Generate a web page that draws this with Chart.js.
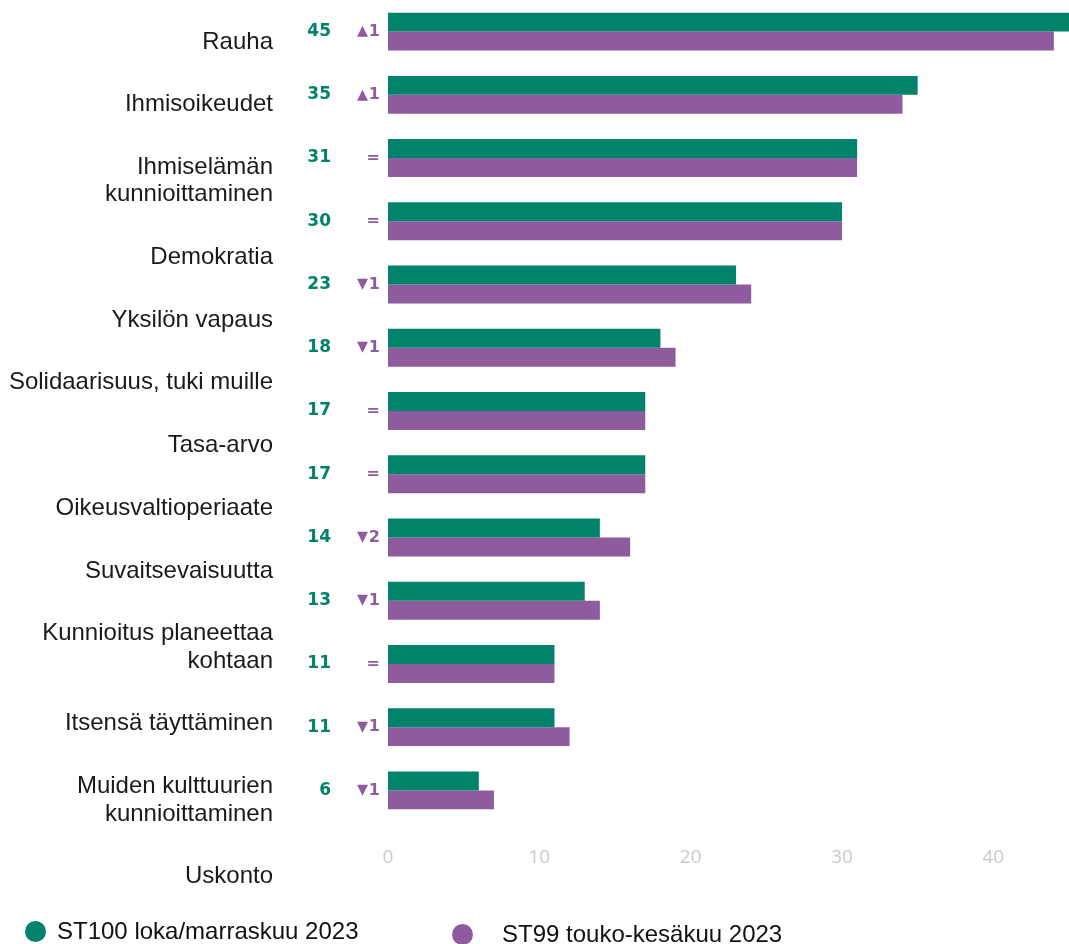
<!DOCTYPE html>
<html lang="fi">
<head>
<meta charset="utf-8">
<title>Arvot</title>
<script src="https://cdn.jsdelivr.net/npm/chart.js@4.4.1/dist/chart.umd.min.js"></script>
<style>
  html, body { margin: 0; padding: 0; background: #fff; }
  #wrap { position: relative; width: 1069px; height: 944px; }
  #legend {
    position: absolute; left: 25px; top: 918px; display: flex;
    font: 24px "Liberation Sans", Arial, sans-serif; color: #111;
  }
  .item { display: flex; align-items: center; height: 26px; white-space: nowrap; }
  .item:first-child { width: 427px; }
  .item:nth-child(2) { margin-top: 3px; }
  .dot { width: 21px; height: 21px; border-radius: 50%; margin-right: 11px; }
  .item:nth-child(2) .dot { margin-right: 29px; }
</style>
</head>
<body>
<div id="wrap">
  <canvas id="valuesChart"></canvas>
  <div id="legend"></div>
</div>
<script>
// Data
const categories = [
  'Rauha',
  'Ihmisoikeudet',
  ['Ihmiselämän', 'kunnioittaminen'],
  'Demokratia',
  'Yksilön vapaus',
  'Solidaarisuus, tuki muille',
  'Tasa-arvo',
  'Oikeusvaltioperiaate',
  'Suvaitsevaisuutta',
  ['Kunnioitus planeettaa', 'kohtaan'],
  'Itsensä täyttäminen',
  ['Muiden kulttuurien', 'kunnioittaminen'],
  'Uskonto'
];
const st100 = [45, 35, 31, 30, 23, 18, 17, 17, 14, 13, 11, 11, 6];
const st99 = [44, 34, 31, 30, 24, 19, 17, 17, 16, 14, 11, 12, 7];
const seriesLabels = ['ST100 loka/marraskuu 2023', 'ST99 touko-kesäkuu 2023'];
const seriesColors = ['#00826b', '#8f5b9f'];
const xTicks = [0, 10, 20, 30, 40];

// Change vs previous wave: arrow and amount (or "=")
const diffs = st100.map((v, i) => v - st99[i]);
const changeArrows = diffs.map(d => d > 0 ? '\u25B4' : d < 0 ? '\u25BE' : '');
const changeAmounts = diffs.map(d => d === 0 ? '=' : String(Math.abs(d)));

// The label column flows like a text list: lines + gap per block
const CHART_H = 822;
const LABEL_LINE = 27.4;
const LABEL_GAP = 35.3;
const LABEL_TOP = 10.6;
const labelPos = [];
let cursor = LABEL_TOP;
categories.forEach(c => {
  const lines = Array.isArray(c) ? c.length : 1;
  const h = lines * LABEL_LINE + LABEL_GAP;
  labelPos.push(cursor + h / 2);
  cursor += h;
});

function noPadding(scale) {
  scale.paddingTop = 0;
  scale.paddingBottom = 0;
  scale.paddingLeft = 0;
  scale.paddingRight = 0;
}

const hiddenGrid = { display: false, drawTicks: false };
const changeColor = seriesColors[1];

const ctx = document.getElementById('valuesChart').getContext('2d');
new Chart(ctx, {
  type: 'bar',
  data: {
    labels: categories,
    datasets: [
      {
        label: seriesLabels[0],
        data: st100,
        backgroundColor: seriesColors[0],
        borderWidth: 0,
        barPercentage: 1,
        categoryPercentage: 0.6
      },
      {
        label: seriesLabels[1],
        data: st99,
        backgroundColor: seriesColors[1],
        borderWidth: 0,
        barPercentage: 1,
        categoryPercentage: 0.6
      }
    ]
  },
  options: {
    indexAxis: 'y',
    responsive: true,
    maintainAspectRatio: false,
    animation: false,
    layout: { padding: 0 },
    plugins: {
      legend: { display: false },
      tooltip: { enabled: false }
    },
    scales: {
      x: {
        min: 0,
        max: 45,
        grid: hiddenGrid,
        border: { display: false },
        afterBuildTicks: s => { s.ticks = xTicks.map(v => ({ value: v })); },
        afterFit: s => { s.height = 944 - CHART_H; noPadding(s); },
        ticks: {
          padding: 24,
          color: '#cacaca',
          font: { family: 'Open Sans', size: 19 }
        }
      },
      // change amount, next to the bars
      y: {
        position: 'left',
        weight: 0,
        grid: hiddenGrid,
        border: { display: false },
        afterFit: s => { s.width = 20; noPadding(s); },
        ticks: {
          autoSkip: false,
          padding: 8,
          color: changeColor,
          font: { family: 'DejaVu Sans', size: 16, weight: 'bold' },
          callback: (v, i) => changeAmounts[i]
        }
      },
      // change arrow
      ya: {
        type: 'category',
        labels: changeArrows,
        offset: true,
        position: 'left',
        weight: 1,
        grid: hiddenGrid,
        border: { display: false },
        afterFit: s => { s.width = 23; noPadding(s); },
        ticks: {
          autoSkip: false,
          padding: 0,
          color: changeColor,
          font: { family: 'DejaVu Sans', size: 22, weight: 'bold' }
        }
      },
      // latest values
      yv: {
        type: 'category',
        labels: st100.map(String),
        offset: true,
        position: 'left',
        weight: 2,
        grid: hiddenGrid,
        border: { display: false },
        afterFit: s => { s.width = 38; noPadding(s); },
        ticks: {
          autoSkip: false,
          padding: 14,
          color: seriesColors[0],
          font: { family: 'DejaVu Sans', size: 17, weight: 'bold' }
        }
      },
      // category names
      yl: {
        type: 'linear',
        position: 'left',
        weight: 3,
        reverse: true,
        offset: false,
        min: 0,
        max: CHART_H,
        grid: hiddenGrid,
        border: { display: false },
        afterBuildTicks: s => { s.ticks = labelPos.map(v => ({ value: v })); },
        afterFit: s => { s.width = 307; noPadding(s); },
        ticks: {
          autoSkip: false,
          padding: 34,
          color: '#1a1a1a',
          font: { family: 'Liberation Sans', size: 24, lineHeight: 1.15 },
          callback: (v, i) => categories[i]
        }
      }
    }
  }
});

// HTML legend
const legendEl = document.getElementById('legend');
seriesLabels.forEach((name, i) => {
  const item = document.createElement('div');
  item.className = 'item';
  item.innerHTML = `<span class="dot" style="background:${seriesColors[i]}"></span><span>${name}</span>`;
  legendEl.appendChild(item);
});
</script>
</body>
</html>
